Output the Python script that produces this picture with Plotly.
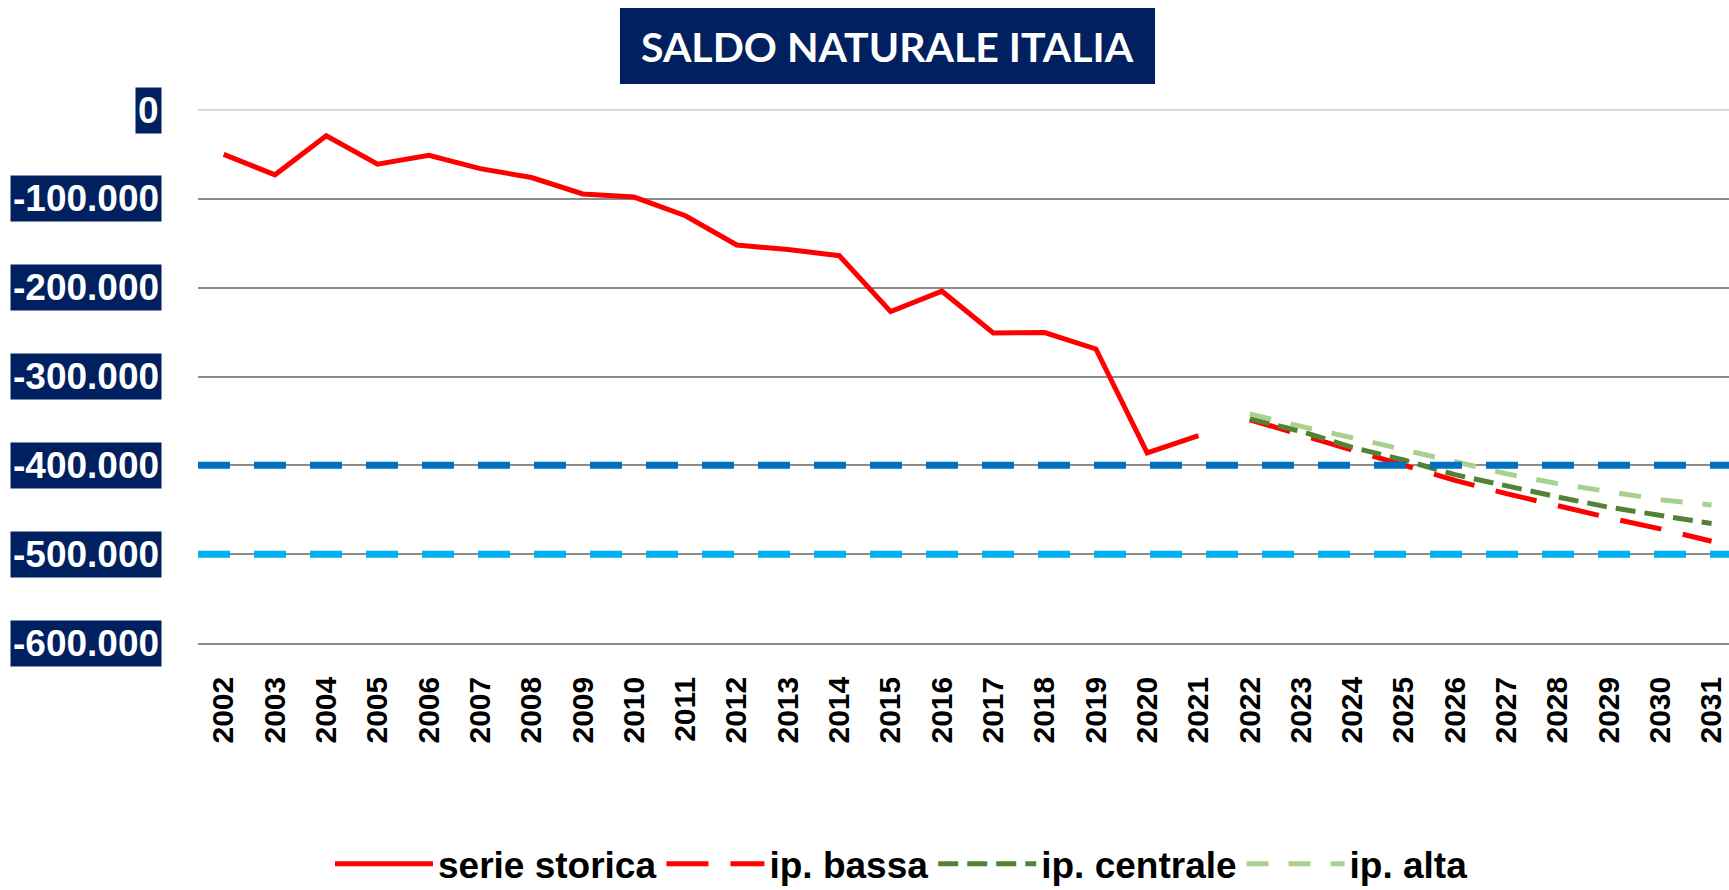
import plotly.graph_objects as go

years = [str(y) for y in range(2002, 2032)]

serie_storica = [-50000, -73000, -29000, -61000, -51000, -66000, -76000, -94500, -98000, -119000,
                 -152000, -157000, -164000, -227000, -204000, -251000, -250500, -269000, -386000, -366500]
ip_bassa = [-348700, -365900, -383000, -400200, -416900, -431800, -446000, -459000, -471500, -485400]
ip_centrale = [-347600, -361800, -379800, -394000, -410500, -423600, -435600, -447200, -456600, -465500]
ip_alta = [-342000, -356200, -368900, -382400, -396300, -409400, -420600, -430300, -438600, -444600]

soglie = [-400000, -500000]
soglie_colori = ["#0070C0", "#00B0F0"]

ytick_vals = [0, -100000, -200000, -300000, -400000, -500000, -600000]
ytick_labels = ["0", "-100.000", "-200.000", "-300.000", "-400.000", "-500.000", "-600.000"]

title_text = "SALDO NATURALE ITALIA"

NAVY = "#002060"
n_hist = len(serie_storica)
hist_full = serie_storica + [None] * (len(years) - n_hist)
pad = [None] * n_hist

fig = go.Figure()
fig.add_trace(go.Scatter(x=years, y=hist_full, mode="lines", name="serie storica",
                         line=dict(color="#FF0000", width=5)))
fig.add_trace(go.Scatter(x=years, y=pad + ip_bassa, mode="lines", name="ip. bassa",
                         line=dict(color="#FF0000", width=5, dash="42px,22px")))
fig.add_trace(go.Scatter(x=years, y=pad + ip_centrale, mode="lines", name="ip. centrale",
                         line=dict(color="#548235", width=5, dash="20px,9px")))
fig.add_trace(go.Scatter(x=years, y=pad + ip_alta, mode="lines", name="ip. alta",
                         line=dict(color="#A9D18E", width=5, dash="22px,20px")))

for v, c in zip(soglie, soglie_colori):
    fig.add_shape(type="line", xref="paper", x0=0, x1=1, yref="y", y0=v, y1=v,
                  line=dict(color=c, width=7, dash="32px,24px"), layer="above")

for v, t in zip(ytick_vals, ytick_labels):
    fig.add_annotation(x=0, xref="paper", y=v, yref="y", xanchor="right", yanchor="middle",
                       xshift=-36, text=t, showarrow=False, bgcolor=NAVY, borderpad=2,
                       font=dict(family="Arial, Liberation Sans", size=37, color="white", weight="bold"))

# title box
fig.add_shape(type="rect", xref="paper", yref="paper", x0=0.2756, x1=0.6251, y0=1.0488, y1=1.1914,
              fillcolor=NAVY, line=dict(width=0), layer="above")
fig.add_annotation(x=0.4504, xref="paper", y=1.120, yref="paper", xanchor="center", yanchor="middle",
                   text=title_text, showarrow=False,
                   font=dict(family="Lato, Open Sans", size=41, color="white", weight="bold"))

fig.update_layout(
    width=1729, height=890,
    margin=dict(l=198, r=0, t=110, b=247),
    plot_bgcolor="white", paper_bgcolor="white",
    showlegend=True,
    legend=dict(orientation="h", x=0.4595, xanchor="center",
                yref="container", y=0.029, yanchor="middle",
                itemwidth=98,
                font=dict(family="Arial, Liberation Sans", size=37, color="black", weight="bold"),
                traceorder="normal"),
    xaxis=dict(type="category", range=[-0.5, 29.34], tickangle=-90, showgrid=False,
               showline=True, linecolor="#8c8c8c", linewidth=1.5, ticks="", ticklabelstandoff=20,
               tickfont=dict(family="Arial, Liberation Sans", size=30, color="black", weight="bold")),
    yaxis=dict(range=[-600000, 0], tickvals=ytick_vals, showticklabels=False,
               showgrid=True, gridcolor="#8c8c8c", gridwidth=1.5,
               zeroline=True, zerolinecolor="#d9d9d9", zerolinewidth=1.5),
)

fig.write_html("out.html", config={"displayModeBar": False},
               post_script="document.body.style.margin='0px';document.documentElement.style.overflow='hidden';")
